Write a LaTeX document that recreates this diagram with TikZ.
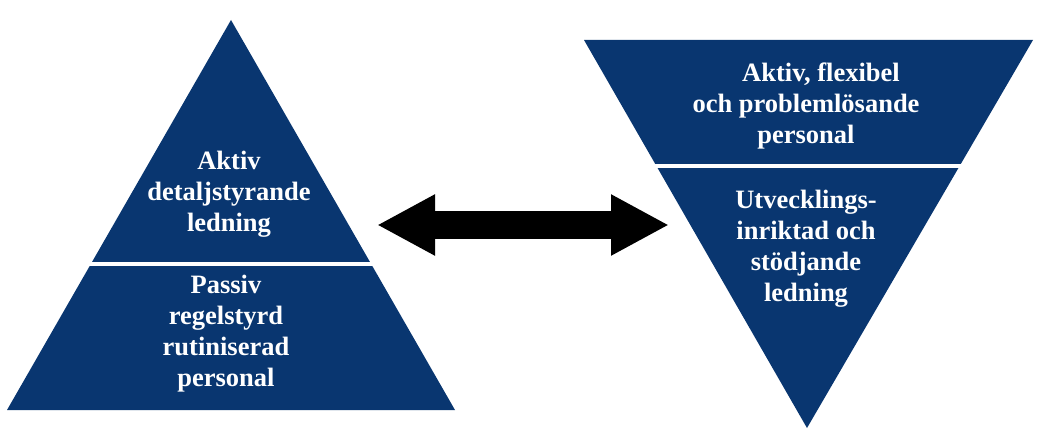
\documentclass[tikz,border=0pt]{standalone}
\usepackage{fontspec}
\setmainfont{Liberation Serif}
\usetikzlibrary{arrows.meta}
\definecolor{navy}{RGB}{9,54,112}

\begin{document}
\begin{tikzpicture}[x=1pt, y=-1pt,
    level/.style={fill=navy},
    cut/.style={draw=white, line width=4pt},
    label/.style={text=white, align=center, inner sep=0pt,
      font=\fontsize{26.5}{31}\selectfont\bfseries}]
  \useasboundingbox (0,0) rectangle (1044,433);
  % pyramid on the left
  \coordinate (ltop) at (231,20);
  \coordinate (lleft) at (7,410);
  \coordinate (lright) at (455,410);
  \fill[level] (ltop) -- (lleft) -- (lright) -- cycle;
  \draw[cut] (60,264) -- (400,264);
  % upside-down pyramid on the right
  \coordinate (rleft) at (584,40);
  \coordinate (rright) at (1033,40);
  \coordinate (rtip) at (807,428);
  \fill[level] (rleft) -- (rright) -- (rtip) -- cycle;
  \draw[cut] (600,166) -- (1020,166);
  % texts
  \node[label] (lupper) at (229,194) {Aktiv\\detaljstyrande\\ledning};
  \node[label] (llower) at (226,334) {Passiv\\regelstyrd\\rutiniserad\\personal};
  \node[label] (rupper) at (806,106) {\hspace*{30pt}Aktiv, flexibel\\och problemlösande\\personal};
  \node[label] (rlower) at (806,249) {Utvecklings-\\inriktad och\\stödjande\\ledning};
  % arrow between
  \coordinate (aleft) at (377,225);
  \coordinate (aright) at (669,225);
  \draw[line width=28pt, {Triangle[length=58pt,width=57pt]}-{Triangle[length=58pt,width=57pt]}]
    (aleft) -- (aright);
\end{tikzpicture}
\end{document}
